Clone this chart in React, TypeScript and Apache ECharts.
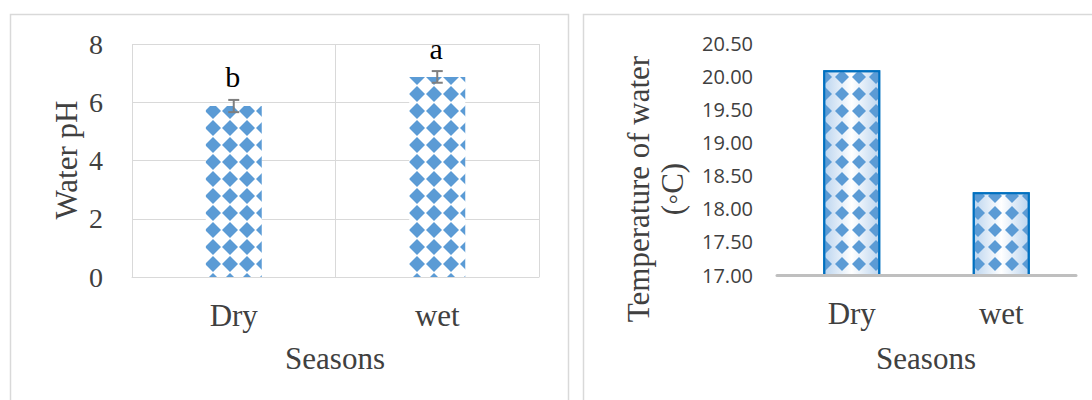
import React, { useEffect, useRef } from 'react';
import * as echarts from 'echarts';

const categories = ['Dry', 'wet'];
const phValues = [5.87, 6.87];
const phErrors = [0.21, 0.2];
const phLetters = ['b', 'a'];
const tempValues = [20.09, 18.25];
const phAxisName = 'Water pH';
const tempAxisName = 'Temperature of water\n(\u25E6C)';
const xAxisName = 'Seasons';

const SERIF = '"Liberation Serif", "Times New Roman", serif';
const SANS = '"Open Sans", "Liberation Sans", sans-serif';
const TXT = '#404040';
const GRID = '#d9d9d9';

export default function App() {
  const ref = useRef<HTMLDivElement>(null);
  useEffect(() => {
    const chart = echarts.init(ref.current as HTMLDivElement, null, { renderer: 'svg' });
    const leftDecal = {
      symbol: 'diamond',
      symbolSize: 1,
      color: '#5b9bd5',
      dashArrayX: [[0, 1, 16, 0]],
      dashArrayY: [0, 1, 16, 0],
    };
    const rightDecal = {
      symbol: 'diamond',
      symbolSize: 1,
      color: '#5b9bd5',
      dashArrayX: [[0, 2, 14, 1]],
      dashArrayY: [0, 2, 14, 1],
    };
    const option: any = {
      animation: false,
      grid: [
        { left: 132, top: 44, width: 407, height: 233, containLabel: false },
        { left: 777, top: 43, width: 299, height: 232, containLabel: false },
      ],
      xAxis: [
        {
          type: 'category',
          gridIndex: 0,
          data: categories,
          axisLine: { show: true, lineStyle: { color: GRID, width: 1 } },
          axisTick: { show: false },
          axisLabel: { margin: 23, color: TXT, fontFamily: SERIF, fontSize: 31 },
          splitLine: { show: true, interval: 0, lineStyle: { color: GRID, width: 1 } },
        },
        {
          type: 'category',
          gridIndex: 1,
          data: categories,
          axisLine: { show: true, lineStyle: { color: '#bfbfbf', width: 3 } },
          axisTick: { show: false },
          axisLabel: { margin: 23, color: TXT, fontFamily: SERIF, fontSize: 31 },
          splitLine: { show: false },
          z: 5,
        },
      ],
      yAxis: [
        {
          type: 'value',
          gridIndex: 0,
          min: 0,
          max: 8,
          interval: 2,
          axisLine: { show: false },
          axisTick: { show: false },
          axisLabel: { margin: 29, color: TXT, fontFamily: SERIF, fontSize: 28 },
          splitLine: { show: true, lineStyle: { color: GRID, width: 1 } },
        },
        {
          type: 'value',
          gridIndex: 1,
          min: 17,
          max: 20.5,
          interval: 0.5,
          axisLine: { show: false },
          axisTick: { show: false },
          axisLabel: {
            margin: 24,
            color: TXT,
            fontFamily: SANS,
            fontSize: 20,
            formatter: (v: number) => v.toFixed(2),
          },
          splitLine: { show: false },
        },
      ],
      series: [
        {
          type: 'bar',
          xAxisIndex: 0,
          yAxisIndex: 0,
          data: phValues,
          barWidth: 56,
          itemStyle: { color: '#ffffff', decal: leftDecal },
        },
        {
          type: 'custom',
          xAxisIndex: 0,
          yAxisIndex: 0,
          data: categories.map((_, i) => [i, phValues[i], phErrors[i]]),
          z: 10,
          renderItem: (params: any, api: any) => {
            const i = api.value(0);
            const m = api.value(1);
            const e = api.value(2);
            const top = api.coord([i, m + e]);
            const bot = api.coord([i, m - e]);
            const x = top[0];
            const hw = 5.5;
            const st = { stroke: '#7f7f7f', lineWidth: 2 };
            return {
              type: 'group',
              children: [
                { type: 'line', shape: { x1: x, y1: top[1], x2: x, y2: bot[1] }, style: st },
                { type: 'line', shape: { x1: x - hw, y1: top[1], x2: x + hw, y2: top[1] }, style: st },
                { type: 'line', shape: { x1: x - hw, y1: bot[1], x2: x + hw, y2: bot[1] }, style: st },
                {
                  type: 'text',
                  x: x - 1,
                  y: top[1] - 8,
                  style: {
                    text: phLetters[params.dataIndex],
                    font: `30px ${SERIF}`,
                    fill: '#000000',
                    textAlign: 'center',
                    textVerticalAlign: 'bottom',
                  },
                },
              ],
            };
          },
        },
        {
          type: 'bar',
          xAxisIndex: 1,
          yAxisIndex: 1,
          data: tempValues,
          barWidth: 57,
          itemStyle: {
            color: {
              type: 'linear',
              x: 0,
              y: 0,
              x2: 1,
              y2: 0,
              colorStops: [
                { offset: 0, color: '#bcd5ef' },
                { offset: 0.5, color: '#ffffff' },
                { offset: 1, color: '#bcd5ef' },
              ],
            },
            borderColor: '#0070c0',
            borderWidth: 2,
            decal: rightDecal,
          },
        },
      ],
      graphic: [
        {
          type: 'rect',
          shape: { x: 10.5, y: 14.5, width: 558, height: 420 },
          style: { fill: 'none', stroke: GRID, lineWidth: 1.5 },
          silent: true,
        },
        {
          type: 'rect',
          shape: { x: 583.5, y: 14.5, width: 540, height: 420 },
          style: { fill: 'none', stroke: GRID, lineWidth: 1.5 },
          silent: true,
        },
        {
          type: 'text',
          x: 66,
          y: 160,
          rotation: Math.PI / 2,
          style: {
            text: phAxisName,
            font: `31px ${SERIF}`,
            fill: TXT,
            textAlign: 'center',
            textVerticalAlign: 'middle',
          },
        },
        {
          type: 'text',
          x: 655,
          y: 189,
          rotation: Math.PI / 2,
          style: {
            text: tempAxisName,
            font: `31px ${SERIF}`,
            lineHeight: 34,
            fill: TXT,
            textAlign: 'center',
            textVerticalAlign: 'middle',
          },
        },
        {
          type: 'text',
          x: 335,
          y: 358,
          style: { text: xAxisName, font: `31px ${SERIF}`, fill: TXT, textAlign: 'center', textVerticalAlign: 'middle' },
        },
        {
          type: 'text',
          x: 926,
          y: 358,
          style: { text: xAxisName, font: `31px ${SERIF}`, fill: TXT, textAlign: 'center', textVerticalAlign: 'middle' },
        },
      ],
    };
    chart.setOption(option);
    return () => {
      chart.dispose();
    };
  }, []);
  return (
    <div
      ref={ref}
      style={{ position: 'absolute', left: 0, top: 0, width: 1092, height: 400, background: '#ffffff' }}
    />
  );
}
